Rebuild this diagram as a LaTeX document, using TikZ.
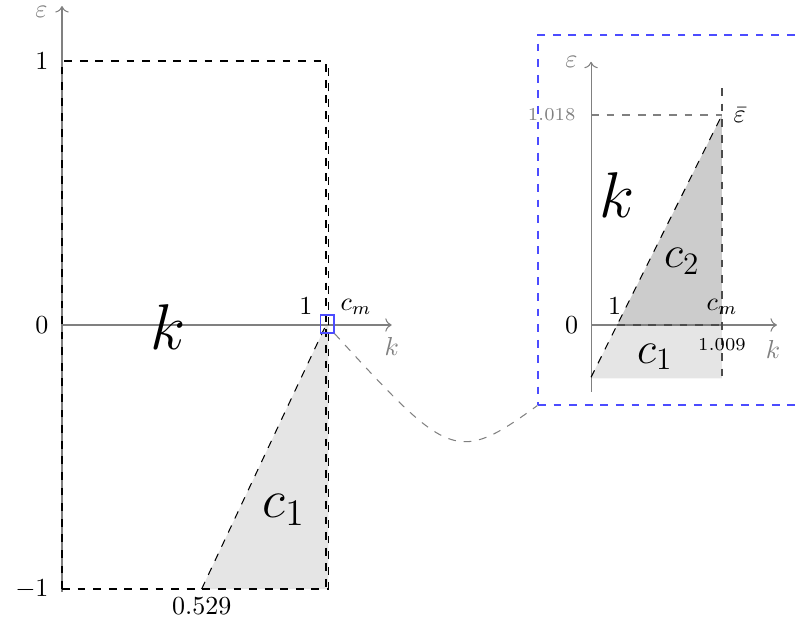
\documentclass[tikz,border=0pt]{standalone}
\usetikzlibrary{positioning,arrows.meta,fit}
\tikzset{
    epsaxis/.style={draw, gray, ->},
    axisname/.style={text=gray, inner sep=2pt},
    ticktext/.style={inner sep=2pt},
    smalltick/.style={inner sep=2pt, font=\scriptsize},
    boundline/.style={draw, dashed},
    innerbound/.style={draw, dashed, black!70},
    guideline/.style={draw, dashed, gray},
    lightregion/.style={fill=gray!20},
    darkregion/.style={fill=gray!40},
    zoomframe/.style={draw, dashed, blue!70, inner sep=0pt},
    focusframe/.style={draw, blue!70, inner sep=0pt},
    zoomlink/.style={draw, dashed, gray},
    bigletter/.style={font=\Huge},
    regionname/.style={font=\huge},
    smallregion/.style={font=\LARGE}
}

\begin{document}
\begin{tikzpicture}[x=3.57cm, y=3.57cm]
    \useasboundingbox (-0.2348,-1.1288) rectangle (2.7765,1.2311);

    \coordinate (origin) at (0,0);
    \coordinate (epstop) at (0,1.208);
    \coordinate (epsbottom) at (0,-1.012);
    \coordinate (kend) at (1.249,0);
    \coordinate (topleft) at (0,1);
    \coordinate (bottomleft) at (0,-1);
    \coordinate (topright) at (1,1);
    \coordinate (bottomright) at (1,-1);
    \coordinate (cmtop) at (1.009,1);
    \coordinate (cmbottom) at (1.009,-1);
    \coordinate (kstart) at (0.529,-1);
    \coordinate (kone) at (1,0);
    \coordinate (cmzero) at (1.009,0);

    \fill[lightregion] (kstart) -- (kone) -- (cmzero) -- (cmbottom) -- cycle;
    \draw[epsaxis] (epsbottom) -- (epstop);
    \draw[epsaxis] (origin) -- (kend);
    \draw[boundline] (bottomleft) -- (topleft) -- (topright) -- (bottomright);
    \draw[boundline] (bottomleft) -- (cmbottom) -- (cmtop);
    \draw[boundline] (kstart) -- (kone);

    \node[axisname, inner sep=0pt, left=5.4pt of epstop, yshift=-2.3pt] (epsname) {$\varepsilon$};
    \node[axisname, below=2.6pt of kend] (kname) {$k$};
    \node[ticktext, left=3pt of topleft] (tickone) {$1$};
    \node[ticktext, left=3pt of origin] (tickzero) {$0$};
    \node[ticktext, left=3pt of bottomleft] (tickminus) {$-1$};
    \node[ticktext, below=1pt of kstart] (tickstart) {$0.529$};
    \node[ticktext, above left=1.8pt and 3pt of kone] (oneabove) {$1$};
    \node[ticktext, above right=1.8pt and 2.5pt of cmzero] (cmname) {$c_m$};
    \node[bigletter] (kregion) at (0.403,-0.006) {$k$};
    \node[regionname] (cone) at (0.84,-0.701) {$c_1$};

    \coordinate (insetorigin) at (2.004,0);
    \coordinate (insettop) at (2.004,0.997);
    \coordinate (insetbottom) at (2.004,-0.253);
    \coordinate (insetkend) at (2.708,0);
    \coordinate (insetone) at (2.103,0);
    \coordinate (insetcm) at (2.5,0);
    \coordinate (epsbarleft) at (2.004,0.7955);
    \coordinate (epsbar) at (2.5,0.7955);
    \coordinate (cmhigh) at (2.5,0.8977);
    \coordinate (cmlow) at (2.5,-0.2019);
    \coordinate (lowleft) at (2.004,-0.2019);
    \coordinate (linestart) at (2.004,-0.198);

    \fill[lightregion] (lowleft) -- (linestart) -- (insetone) -- (insetcm) -- (cmlow) -- cycle;
    \fill[darkregion] (insetone) -- (epsbar) -- (insetcm) -- cycle;
    \draw[epsaxis] (insetbottom) -- (insettop);
    \draw[epsaxis] (insetorigin) -- (insetkend);
    \draw[guideline] (epsbarleft) -- (epsbar);
    \draw[innerbound] (cmhigh) -- (cmlow);
    \draw[innerbound] (insetone) -- (insetcm);
    \draw[boundline] (linestart) -- (epsbar);

    \node[axisname, left=3pt of insettop] (insetepsname) {$\varepsilon$};
    \node[axisname, below=3.8pt of insetkend, xshift=-1.5pt] (insetkname) {$k$};
    \node[ticktext, left=2.8pt of insetorigin] (insetzero) {$0$};
    \node[smalltick, text=gray, left=3.8pt of epsbarleft] (tickeps) {$1.018$};
    \node[smalltick, below=3pt of insetcm] (tickcm) {$1.009$};
    \node[ticktext, above=1.8pt of insetone, xshift=-1pt] (insetoneabove) {$1$};
    \node[ticktext, above=1.8pt of insetcm] (insetcmname) {$c_m$};
    \node[ticktext, right=2.3pt of epsbar] (epsbarname) {$\bar{\varepsilon}$};
    \node[bigletter] (insetkregion) at (2.102,0.494) {$k$};
    \node[smallregion] (ctwo) at (2.348,0.242) {$c_2$};
    \node[smallregion] (insetcone) at (2.246,-0.121) {$c_1$};

    \coordinate (framesw) at (1.803,-0.303);
    \coordinate (framene) at (2.799,1.0985);
    \node[zoomframe, fit=(framesw)(framene)] (insetframe) {};
    \coordinate (focussw) at (0.9799,-0.0303);
    \coordinate (focusne) at (1.0303,0.0379);
    \node[focusframe, fit=(focussw)(focusne)] (focus) {};
    \draw[zoomlink] (focus.south east) .. controls +(-47.6:0.644) and +(-144:0.379) .. (insetframe.south west);
\end{tikzpicture}
\end{document}
